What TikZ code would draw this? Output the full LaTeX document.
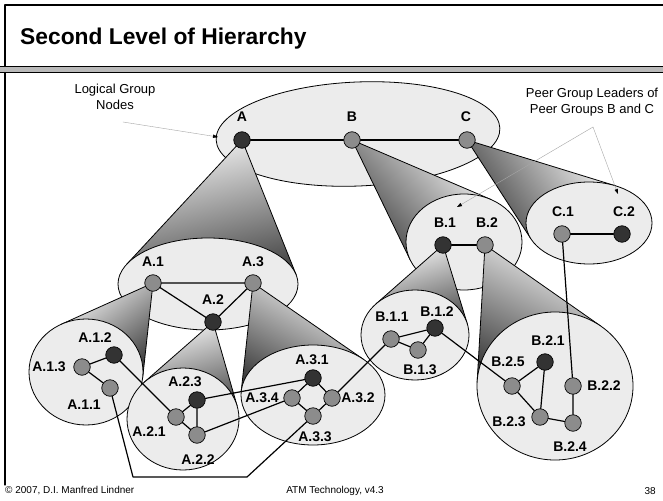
\documentclass[tikz,border=0pt]{standalone}
\usepackage{fontspec}
\setmainfont{Liberation Sans}
\usetikzlibrary{arrows.meta}
\definecolor{grpfill}{rgb}{0.925,0.925,0.925}
\definecolor{nodegray}{rgb}{0.55,0.55,0.55}
\definecolor{nodedark}{rgb}{0.2,0.2,0.2}
\tikzset{
  pnode/.style={circle,draw,fill=nodegray,minimum size=16.5pt,inner sep=0pt,line width=.7pt},
  lnode/.style={pnode,fill=nodedark},
  lbl/.style={font=\fontsize{14}{15}\selectfont\bfseries,inner sep=0pt},
  grp/.style={fill=grpfill,draw=black,line width=.8pt},
  link/.style={line width=1.2pt},
  note/.style={draw=gray!70,line width=.4pt,-{Triangle[black,length=5pt,width=3.5pt]}},
  foot/.style={font=\fontsize{10}{11}\selectfont,inner sep=0pt},
  notetext/.style={align=center,inner sep=0pt,font=\fontsize{13}{16}\selectfont},
}
% shaded cone from an apex (#1,#2) down to an ellipse centre (#3,#4), radii #5 and #6
\newcommand\drawcone[6]{%
  \pgfmathsetmacro\cnU{(#1-#3)/#5}%
  \pgfmathsetmacro\cnV{(#2-#4)/#6}%
  \pgfmathsetmacro\cnA{atan2(\cnV,\cnU)}%
  \pgfmathsetmacro\cnB{acos(1/sqrt(\cnU*\cnU+\cnV*\cnV))}%
  \pgfmathsetmacro\cnS{atan2(#1-#3,#4-#2)}%
  \shade[top color=gray!8,bottom color=black!75,shading angle=\cnS]
    (#1,#2) -- ({#3+#5*cos(\cnA+\cnB)},{#4+#6*sin(\cnA+\cnB)}) -- (#3,#4)
    -- ({#3+#5*cos(\cnA-\cnB)},{#4+#6*sin(\cnA-\cnB)}) -- cycle;
  \draw[line width=.8pt] ({#3+#5*cos(\cnA+\cnB)},{#4+#6*sin(\cnA+\cnB)}) -- (#1,#2)
    -- ({#3+#5*cos(\cnA-\cnB)},{#4+#6*sin(\cnA-\cnB)});
}
\begin{document}
\begin{tikzpicture}[x=1pt,y=-1pt,line join=round,line cap=round]
  \useasboundingbox (0,0) rectangle (663,500);
  \fill[white] (0,0) rectangle (663,500);
  %% frame, title, footer
  \draw[line width=1.2pt] (663,5) -- (5,5) -- (5,485);
  \fill[gray!55] (0,66) rectangle (663,72);
  \draw[line width=.8pt] (0,66) -- (663,66) (0,72) -- (663,72);
  \node[anchor=base west,inner sep=0pt,font=\fontsize{22.8}{26}\selectfont\bfseries] (title) at (20,45) {Second Level of Hierarchy};
  \node[foot,anchor=west] (copy) at (5,491) {© 2007, D.I. Manfred Lindner};
  \node[foot] (course) at (335,491) {ATM Technology, v4.3};
  \node[foot,anchor=east] (page) at (656,491) {38};

  %% top level
  \filldraw[grp,rotate around={2.4:(358,134)}] (358,134) ellipse [x radius=142,y radius=52];
  \drawcone{242}{140}{208}{284}{90}{46} %A
  \drawcone{352}{140}{464}{242}{58}{48} %B
  \drawcone{467}{140}{589}{223}{63}{41} %C
  \filldraw[grp] (208,284) ellipse [x radius=90,y radius=46];
  \filldraw[grp] (464,242) ellipse [x radius=58,y radius=48];
  \filldraw[grp] (589,223) ellipse [x radius=63,y radius=41];
  \node[lnode] (a) at (242,140) {};
  \node[pnode] (b) at (352,140) {};
  \node[pnode] (c) at (467,140) {};
  \draw[link] (a) -- (b) -- (c);
  \node[lbl] (la) at (242,117) {A};
  \node[lbl] (lb) at (352,117) {B};
  \node[lbl] (lc) at (466,117) {C};

  %% third level groups
  \drawcone{153}{283}{86}{372}{57}{53} %A.1
  \filldraw[grp] (86,372) ellipse [x radius=57,y radius=53];
  \drawcone{213}{322}{183}{419}{56}{51} %A.2
  \filldraw[grp] (183,419) ellipse [x radius=56,y radius=51];
  \drawcone{253}{283}{313}{395}{72}{50} %A.3
  \filldraw[grp] (313,395) ellipse [x radius=72,y radius=50];
  \drawcone{443}{245}{415}{335}{54}{45} %B.1
  \filldraw[grp] (415,335) ellipse [x radius=54,y radius=45];
  \drawcone{485}{245}{555}{386}{78}{74} %B.2
  \filldraw[grp] (555,386) ellipse [x radius=78,y radius=74];

  %% second level nodes
  \node[pnode] (a1) at (153,283) {};
  \node[lnode] (a2) at (213,322) {};
  \node[pnode] (a3) at (253,283) {};
  \node[lnode] (b1) at (443,245) {};
  \node[pnode] (b2) at (485,245) {};
  \node[pnode] (c1) at (562,234) {};
  \node[lnode] (c2) at (622,234) {};
  \draw[link] (a1) -- (a3) (a1) -- (a2) -- (a3);
  \draw[link] (b1) -- (b2);
  \draw[link] (c1) -- (c2);
  \node[lbl] (la1) at (153,262) {A.1};
  \node[lbl] (la3) at (253,262) {A.3};
  \node[lbl] (la2) at (213,300) {A.2};
  \node[lbl] (lb1) at (445,223) {B.1};
  \node[lbl] (lb2) at (487,223) {B.2};
  \node[lbl] (lc1) at (563,212) {C.1};
  \node[lbl] (lc2) at (624,212) {C.2};

  %% third level nodes
  \node[lnode] (a12) at (114,355) {};
  \node[pnode] (a13) at (82,367) {};
  \node[pnode] (a11) at (110,388) {};
  \node[lnode] (a23) at (197,400) {};
  \node[pnode] (a21) at (176,417) {};
  \node[pnode] (a22) at (197,435) {};
  \node[lnode] (a31) at (313,378) {};
  \node[pnode] (a34) at (292,398) {};
  \node[pnode] (a32) at (332,398) {};
  \node[pnode] (a33) at (313,416) {};
  \node[pnode] (b11) at (391,339) {};
  \node[lnode] (b12) at (435,328) {};
  \node[pnode] (b13) at (418,350) {};
  \node[lnode] (b21) at (545,362) {};
  \node[pnode] (b25) at (512,386) {};
  \node[pnode] (b22) at (573,386) {};
  \node[pnode] (b23) at (540,417) {};
  \node[pnode] (b24) at (573,423) {};
  \coordinate (bl) at (133,477);
  \coordinate (br) at (247,477);
  \draw[link] (a13) -- (a12) (a13) -- (a11);
  \draw[link] (a23) -- (a21) -- (a22) -- (a23);
  \draw[link] (a31) -- (a34) -- (a33) -- (a32) -- (a31);
  \draw[link] (b11) -- (b12) -- (b13) -- (b11);
  \draw[link] (b25) -- (b21) -- (b23) -- (b25) (b23) -- (b24) -- (b22);
  \draw[link] (a12) -- (a21);
  \draw[link] (a11) -- (bl) -- (br) -- (a33);
  \draw[link] (a23) -- (a31);
  \draw[link] (a22) -- (a34);
  \draw[link] (a32) -- (b11);
  \draw[link] (b12) -- (b25);
  \draw[link] (c1) -- (b22);
  \node[lbl] (la12) at (95,338) {A.1.2};
  \node[lbl] (la13) at (49,367) {A.1.3};
  \node[lbl] (la11) at (84,405) {A.1.1};
  \node[lbl] (la23) at (185,382) {A.2.3};
  \node[lbl] (la21) at (149,432) {A.2.1};
  \node[lbl] (la22) at (198,460) {A.2.2};
  \node[lbl] (la31) at (312,360) {A.3.1};
  \node[lbl] (la34) at (262,398) {A.3.4};
  \node[lbl] (la32) at (358,398) {A.3.2};
  \node[lbl] (la33) at (315,437) {A.3.3};
  \node[lbl] (lb11) at (392,317) {B.1.1};
  \node[lbl] (lb12) at (437,312) {B.1.2};
  \node[lbl] (lb13) at (420,370) {B.1.3};
  \node[lbl] (lb21) at (548,341) {B.2.1};
  \node[lbl] (lb25) at (508,362) {B.2.5};
  \node[lbl] (lb22) at (604,386) {B.2.2};
  \node[lbl] (lb23) at (509,422) {B.2.3};
  \node[lbl] (lb24) at (570,447) {B.2.4};

  %% notes
  \node[notetext] (lgn) at (115,97) {Logical Group\\Nodes};
  \node[notetext] (pgl) at (592,102) {Peer Group Leaders of\\Peer Groups B and C};
  \coordinate (lgs) at (123,122);
  \coordinate (lge) at (218,137);
  \coordinate (pgs) at (593,127);
  \coordinate (pge1) at (457,207);
  \coordinate (pge2) at (618,194);
  \draw[note] (lgs) -- (lge);
  \draw[note] (pgs) -- (pge1);
  \draw[note] (pgs) -- (pge2);
\end{tikzpicture}
\end{document}
